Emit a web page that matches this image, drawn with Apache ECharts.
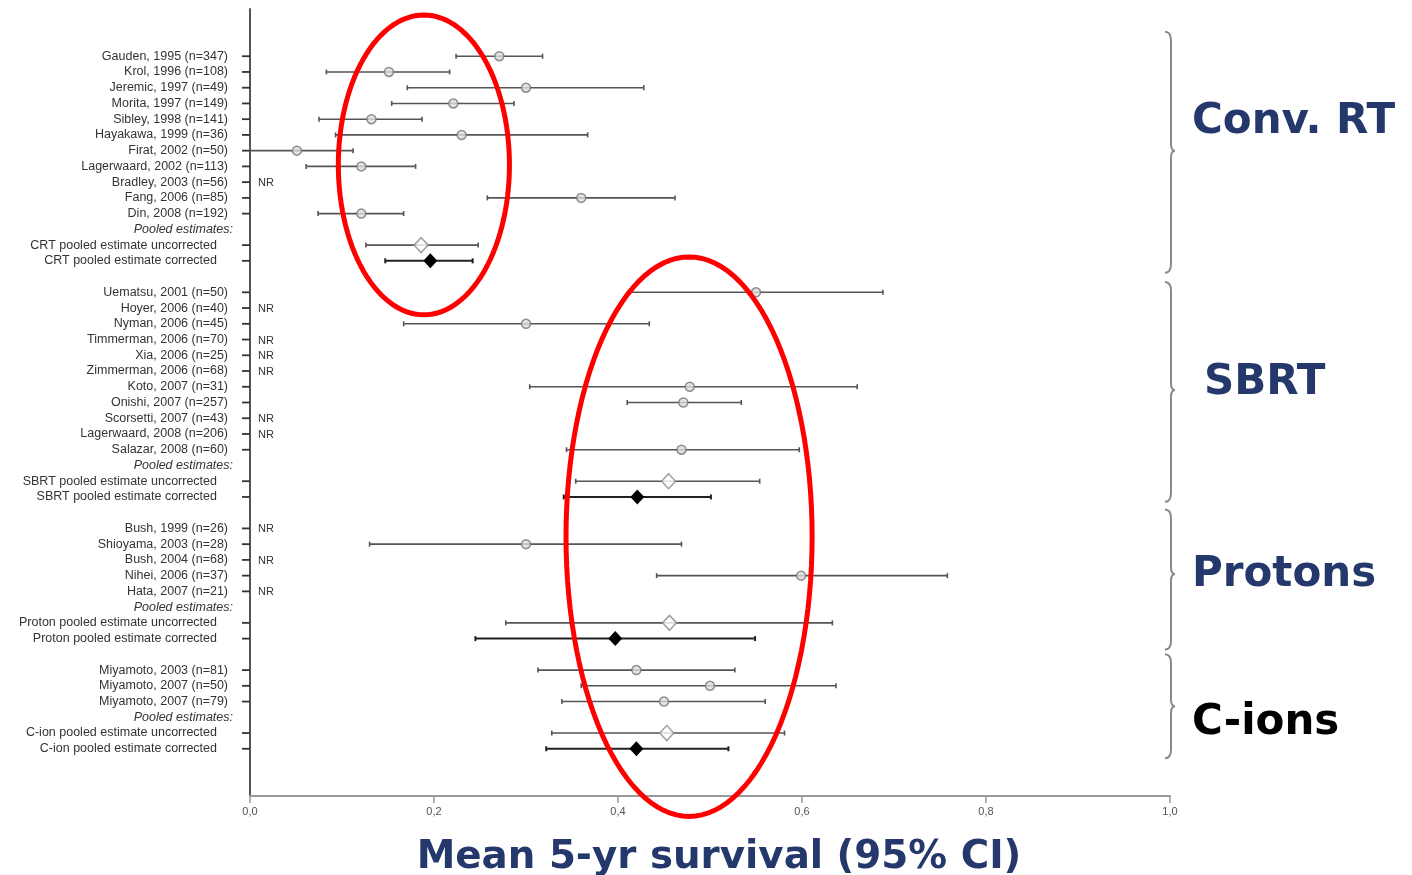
<!DOCTYPE html>
<html>
<head>
<meta charset="utf-8">
<script src="https://cdn.jsdelivr.net/npm/echarts@6/dist/echarts.min.js"></script>
<style>
  html, body { margin: 0; padding: 0; background: #fff; }
  #chart { width: 1412px; height: 875px; }
</style>
</head>
<body>
<div id="chart"></div>
<script>
// one entry per row, top to bottom ('' = spacer row)
const rowLabels = [
  'Gauden, 1995 (n=347)', 'Krol, 1996 (n=108)', 'Jeremic, 1997 (n=49)', 'Morita, 1997 (n=149)',
  'Sibley, 1998 (n=141)', 'Hayakawa, 1999 (n=36)', 'Firat, 2002 (n=50)', 'Lagerwaard, 2002 (n=113)',
  'Bradley, 2003 (n=56)', 'Fang, 2006 (n=85)', 'Din, 2008 (n=192)', 'Pooled estimates:',
  'CRT pooled estimate uncorrected', 'CRT pooled estimate corrected', '',
  'Uematsu, 2001 (n=50)', 'Hoyer, 2006 (n=40)', 'Nyman, 2006 (n=45)', 'Timmerman, 2006 (n=70)',
  'Xia, 2006 (n=25)', 'Zimmerman, 2006 (n=68)', 'Koto, 2007 (n=31)', 'Onishi, 2007 (n=257)',
  'Scorsetti, 2007 (n=43)', 'Lagerwaard, 2008 (n=206)', 'Salazar, 2008 (n=60)', 'Pooled estimates:',
  'SBRT pooled estimate uncorrected', 'SBRT pooled estimate corrected', '',
  'Bush, 1999 (n=26)', 'Shioyama, 2003 (n=28)', 'Bush, 2004 (n=68)', 'Nihei, 2006 (n=37)',
  'Hata, 2007 (n=21)', 'Pooled estimates:',
  'Proton pooled estimate uncorrected', 'Proton pooled estimate corrected', '',
  'Miyamoto, 2003 (n=81)', 'Miyamoto, 2007 (n=50)', 'Miyamoto, 2007 (n=79)', 'Pooled estimates:',
  'C-ion pooled estimate uncorrected', 'C-ion pooled estimate corrected'
];
// s = study, nr = not reported, h = header, u = pooled uncorrected, c = pooled corrected, g = gap
const rowKind = [
  's','s','s','s','s','s','s','s','nr','s','s','h','u','c','g',
  's','nr','s','nr','nr','nr','s','s','nr','nr','s','h','u','c','g',
  'nr','s','nr','s','nr','h','u','c','g',
  's','s','s','h','u','c'
];
const meanSurvival = [
  0.271, 0.151, 0.300, 0.221, 0.132, 0.230, 0.051, 0.121, null, 0.360, 0.121, null, 0.186, 0.196, null,
  0.550, null, 0.300, null, null, null, 0.478, 0.471, null, null, 0.469, null, 0.455, 0.421, null,
  null, 0.300, null, 0.599, null, null, 0.456, 0.397, null,
  0.420, 0.500, 0.450, null, 0.453, 0.420
];
const lowerCI = [
  0.224, 0.083, 0.171, 0.154, 0.075, 0.093, 0.000, 0.061, null, 0.258, 0.074, null, 0.126, 0.147, null,
  0.412, null, 0.167, null, null, null, 0.304, 0.410, null, null, 0.344, null, 0.354, 0.341, null,
  null, 0.130, null, 0.442, null, null, 0.278, 0.245, null,
  0.313, 0.360, 0.339, null, 0.328, 0.322
];
const upperCI = [
  0.318, 0.217, 0.428, 0.287, 0.187, 0.367, 0.112, 0.180, null, 0.462, 0.167, null, 0.248, 0.242, null,
  0.688, null, 0.434, null, null, null, 0.660, 0.534, null, null, 0.597, null, 0.554, 0.501, null,
  null, 0.469, null, 0.758, null, null, 0.633, 0.549, null,
  0.527, 0.637, 0.560, null, 0.581, 0.520
];

// treatment groups (brace extents in row units)
const groupNames = ['Conv. RT', 'SBRT', 'Protons', 'C-ions'];
const braceTop = [-1.55, 14.35, 28.8, 38.0];
const braceBottom = [13.75, 28.3, 37.7, 44.6];
const braceMid = [6.0, 21.2, 32.9, 41.3];
const groupLabelRow = [4.2, 20.75, 32.95, 42.35];

// red highlight ellipses: [xMin, xMax, rowTop, rowBottom]
const highlights = [
  [0.096, 0.282, -2.62, 16.43],
  [0.3435, 0.611, 12.75, 48.3]
];

const NAVY = '#24386c';

const chart = echarts.init(document.getElementById('chart'));

const errData = [];
const circleData = [];
const openDiamondData = [];
const filledDiamondData = [];
const tickData = [];
rowKind.forEach((k, i) => {
  if (lowerCI[i] != null) errData.push([lowerCI[i], upperCI[i], i, k === 'c' ? 1 : 0]);
  if (k === 's') circleData.push([meanSurvival[i], i]);
  if (k === 'u') openDiamondData.push([meanSurvival[i], i]);
  if (k === 'c') filledDiamondData.push([meanSurvival[i], i]);
  if (k === 's' || k === 'nr' || k === 'u' || k === 'c') tickData.push([0, i, k === 'nr' ? 1 : 0]);
});

const braceData = groupNames.map((n, i) => [1, braceTop[i], braceBottom[i], braceMid[i], groupLabelRow[i], i]);

const options = {
  animation: false,
  grid: { left: 250, right: 242, top: 9, bottom: 79, outerBoundsMode: 'none' },
  xAxis: {
    type: 'value',
    min: 0,
    max: 1,
    interval: 0.2,
    name: 'Mean 5-yr survival (95% CI)',
    nameLocation: 'middle',
    nameGap: 42,
    nameTextStyle: {
      fontFamily: 'DejaVu Sans',
      fontWeight: 'bold',
      fontSize: 38.8,
      color: NAVY,
      padding: [0, 0, 0, 18]
    },
    axisLine: { onZero: false, lineStyle: { color: '#9a9a9a', width: 2 } },
    axisTick: { length: 7, lineStyle: { color: '#9a9a9a', width: 1.5 } },
    splitLine: { show: false },
    axisLabel: {
      margin: 10,
      fontFamily: 'Liberation Sans',
      fontSize: 11,
      color: '#555',
      formatter: (v) => v.toFixed(1).replace('.', ',')
    }
  },
  yAxis: {
    type: 'value',
    inverse: true,
    min: -3,
    max: 47,
    interval: 1,
    axisLine: { show: true, onZero: false, lineStyle: { color: '#555', width: 2 } },
    axisTick: { show: false },
    splitLine: { show: false },
    axisLabel: {
      margin: 17,
      fontFamily: 'Liberation Sans',
      fontSize: 12.5,
      color: '#333',
      formatter: (v) => {
        const i = Math.round(v);
        if (Math.abs(v - i) > 1e-6 || i < 0 || i >= rowLabels.length) return '';
        const k = rowKind[i];
        if (k === 'g') return '';
        if (k === 'h') return '{h|' + rowLabels[i] + '}';
        if (k === 'u' || k === 'c') return '{p|' + rowLabels[i] + '}';
        return '{s|' + rowLabels[i] + '}';
      },
      rich: {
        s: { fontFamily: 'Liberation Sans', fontSize: 12.5, color: '#333', padding: [0, 5, 0, 0] },
        p: { fontFamily: 'Liberation Sans', fontSize: 12.5, color: '#333', padding: [0, 16, 0, 0] },
        h: { fontFamily: 'Liberation Sans', fontSize: 12.5, color: '#333', fontStyle: 'italic' }
      }
    }
  },
  series: [
    {
      name: 'rowTicks',
      type: 'custom',
      data: tickData,
      encode: { x: 0, y: 1 },
      renderItem: (params, api) => {
        const p = api.coord([api.value(0), api.value(1)]);
        const children = [{
          type: 'line',
          shape: { x1: p[0] - 8, y1: p[1], x2: p[0], y2: p[1] },
          style: { stroke: '#333', lineWidth: 1.8 }
        }];
        if (api.value(2) === 1) {
          children.push({
            type: 'text',
            style: {
              text: 'NR', x: p[0] + 8, y: p[1] + 1,
              verticalAlign: 'middle', align: 'left',
              font: '11px "Liberation Sans"', fill: '#333'
            }
          });
        }
        return { type: 'group', children };
      },
      z: 2
    },
    {
      name: 'ci',
      type: 'custom',
      data: errData,
      encode: { x: [0, 1], y: 2 },
      renderItem: (params, api) => {
        const a = api.coord([api.value(0), api.value(2)]);
        const b = api.coord([api.value(1), api.value(2)]);
        const dark = api.value(3) === 1;
        const st = { stroke: dark ? '#222' : '#555', lineWidth: dark ? 2 : 1.6 };
        return {
          type: 'group',
          children: [
            { type: 'line', shape: { x1: a[0], y1: a[1], x2: b[0], y2: b[1] }, style: st },
            { type: 'line', shape: { x1: a[0], y1: a[1] - 2.5, x2: a[0], y2: a[1] + 2.5 }, style: st },
            { type: 'line', shape: { x1: b[0], y1: b[1] - 2.5, x2: b[0], y2: b[1] + 2.5 }, style: st }
          ]
        };
      },
      z: 3
    },
    {
      name: 'study',
      type: 'scatter',
      data: circleData,
      symbol: 'circle',
      symbolSize: 9,
      itemStyle: { color: '#dcdcdc', borderColor: '#777', borderWidth: 1.5 },
      z: 4
    },
    {
      name: 'pooled uncorrected',
      type: 'scatter',
      data: openDiamondData,
      symbol: 'diamond',
      symbolSize: [14, 15],
      itemStyle: { color: '#fff', borderColor: '#888', borderWidth: 1.5 },
      z: 4
    },
    {
      name: 'pooled corrected',
      type: 'scatter',
      data: filledDiamondData,
      symbol: 'diamond',
      symbolSize: [14, 15],
      itemStyle: { color: '#000', opacity: 1 },
      z: 4
    },
    {
      name: 'groups',
      type: 'custom',
      data: braceData,
      encode: { x: 0, y: [1, 2] },
      clip: false,
      renderItem: (params, api) => {
        const top = api.coord([api.value(0), api.value(1)]);
        const bot = api.coord([api.value(0), api.value(2)]);
        const mid = api.coord([api.value(0), api.value(3)]);
        const lab = api.coord([api.value(0), api.value(4)]);
        const gi = api.value(5);
        const x = top[0] + 1;
        const path = 'M' + (x - 6) + ' ' + top[1] +
          ' Q' + x + ' ' + top[1] + ' ' + x + ' ' + (top[1] + 9) +
          ' L' + x + ' ' + (mid[1] - 7) +
          ' Q' + x + ' ' + mid[1] + ' ' + (x + 4) + ' ' + mid[1] +
          ' Q' + x + ' ' + mid[1] + ' ' + x + ' ' + (mid[1] + 7) +
          ' L' + x + ' ' + (bot[1] - 9) +
          ' Q' + x + ' ' + bot[1] + ' ' + (x - 6) + ' ' + bot[1];
        return {
          type: 'group',
          children: [
            {
              type: 'path',
              shape: { pathData: path },
              style: { stroke: '#8a8a8a', lineWidth: 2, fill: null }
            },
            {
              type: 'text',
              style: {
                text: groupNames[gi],
                x: x + (gi === 1 ? 33 : 21),
                y: lab[1],
                verticalAlign: 'middle',
                align: 'left',
                font: 'bold 42px "DejaVu Sans"',
                fill: gi === 3 ? '#000' : NAVY
              }
            }
          ]
        };
      },
      z: 5
    },
    {
      name: 'highlight',
      type: 'custom',
      data: highlights,
      encode: { x: [0, 1], y: [2, 3] },
      clip: false,
      renderItem: (params, api) => {
        const p1 = api.coord([api.value(0), api.value(2)]);
        const p2 = api.coord([api.value(1), api.value(3)]);
        const cx = (p1[0] + p2[0]) / 2, cy = (p1[1] + p2[1]) / 2;
        const rx = Math.abs(p2[0] - p1[0]) / 2, ry = Math.abs(p2[1] - p1[1]) / 2;
        const pts = [];
        for (let k = 0; k < 120; k++) {
          const t = (k / 120) * Math.PI * 2;
          pts.push([cx + rx * Math.cos(t), cy + ry * Math.sin(t)]);
        }
        return {
          type: 'polygon',
          shape: { points: pts, smooth: 0 },
          style: { stroke: '#ff0000', lineWidth: 5, fill: null }
        };
      },
      z: 10
    }
  ]
};

chart.setOption(options);

window.addEventListener('resize', () => {
  chart.resize();
});
</script>
</body>
</html>
